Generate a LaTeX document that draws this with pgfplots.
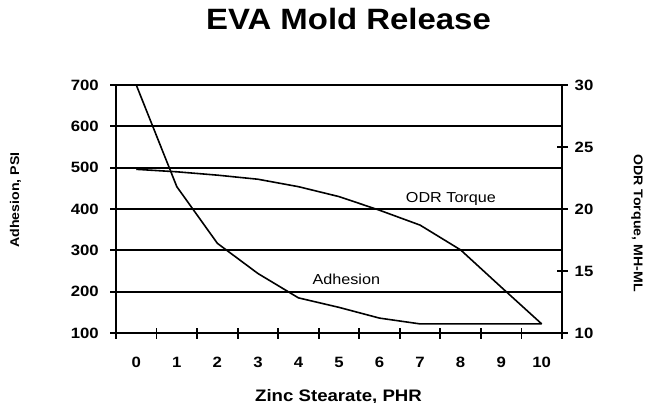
\documentclass[border=0pt]{standalone}
\usepackage{fontspec}
\setmainfont{Liberation Sans}[FakeStretch=1.12]
\usepackage{pgfplots}
\pgfplotsset{compat=1.18}
\pgfplotstableread{
x adh
0 700
1 454
2 317
3 244
4 185
5 162
6 136
7 122
8 122
9 122
10 122
}\adhesion
\pgfplotstableread{
x odr
0 23.2
1 23.0
2 22.73
3 22.4
4 21.8
5 21.0
6 19.9
7 18.7
8 16.7
9 13.7
10 10.73
}\odr
\begin{document}
\begin{tikzpicture}
\path[use as bounding box] (-116bp,-70bp) rectangle (531bp,333bp);
\begin{axis}[
  at={(0bp,0bp)}, anchor=south west,
  scale only axis, width=446bp, height=248bp,
  xmin=-0.5, xmax=10.5, ymin=100, ymax=700,
  axis x line*=bottom, axis y line*=left,
  axis line style={line width=2.4pt, black},
  xtick={-0.5,0.5,1.5,2.5,3.5,4.5,5.5,6.5,7.5,8.5,9.5,10.5},
  x tick label as interval,
  xticklabels={0,1,2,3,4,5,6,7,8,9,10},
  ytick={100,200,300,400,500,600,700},
  tick align=center, major tick length=11bp,
  tick style={line width=1.8pt, black},
  ymajorgrids, grid style={line width=1.8pt, black},
  /pgf/number format/assume math mode=true,
  ticklabel style={font=\fontsize{15}{16}\selectfont\bfseries},
  yticklabel style={anchor=east, inner sep=0pt, xshift=-11.5bp},
  xticklabel style={anchor=base, inner sep=0pt, yshift=-28.5bp},
  title={EVA Mold Release},
  title style={font=\fontsize{29.5}{30}\selectfont\bfseries, at={(rel axis cs:0.5213,1.1988)}, anchor=base, inner sep=0pt},
  xlabel={Zinc Stearate, PHR},
  xlabel style={font=\fontsize{16.7}{17}\selectfont\bfseries, at={(rel axis cs:0.4989,-0.2742)}, anchor=base, inner sep=0pt},
  ylabel={Adhesion, PSI},
  ylabel style={font=\fontsize{12.7}{13}\selectfont\bfseries, at={(rel axis cs:-0.2253,0.5363)}, anchor=center, inner sep=0pt},
  clip=false,
]
\addplot[black, line width=1.6pt] table[x=x, y=adh] {\adhesion};
\node[anchor=base, font=\fontsize{14.5}{15}\selectfont] at (axis cs:7.76,415) {ODR Torque};
\node[anchor=base, font=\fontsize{14.5}{15}\selectfont] at (axis cs:5.18,218.5) {Adhesion};
\end{axis}
\begin{axis}[
  at={(0bp,0bp)}, anchor=south west,
  scale only axis, width=446bp, height=248bp,
  xmin=-0.5, xmax=10.5, ymin=10, ymax=30,
  axis x line=none, axis y line*=right,
  axis line style={line width=2.4pt, black},
  ytick={10,15,20,25,30},
  tick align=center, major tick length=11bp,
  tick style={line width=1.8pt, black},
  /pgf/number format/assume math mode=true,
  ticklabel style={font=\fontsize{15}{16}\selectfont\bfseries},
  yticklabel style={anchor=west, inner sep=0pt, xshift=7bp},
  ylabel={ODR Torque, MH-ML},
  ylabel style={font=\fontsize{12.7}{13}\selectfont\bfseries, at={(rel axis cs:1.1682,0.4435)}, anchor=center, rotate=180, inner sep=0pt},
  clip=false,
]
\addplot[black, line width=1.6pt] table[x=x, y=odr] {\odr};
\end{axis}
\end{tikzpicture}
\end{document}
